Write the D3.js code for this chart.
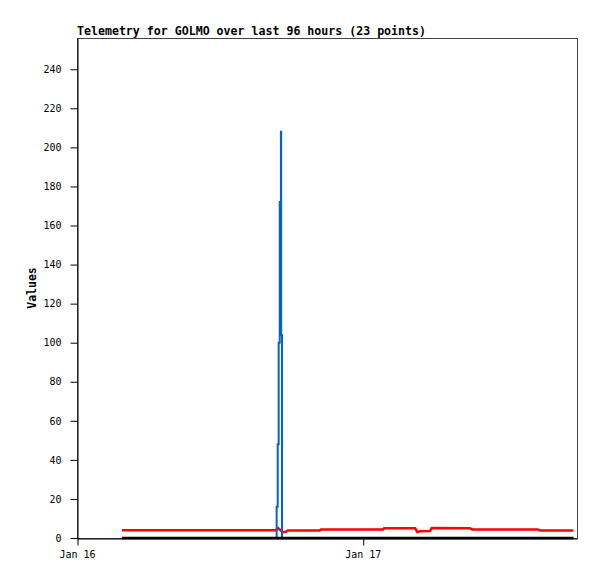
<!DOCTYPE html>
<html>
<head>
<meta charset="utf-8">
<script src="https://cdn.jsdelivr.net/npm/d3@7"></script>
<style>
  body { margin: 0; background: #fff; }
  svg { display: block; }
  text { font-family: "DejaVu Sans Mono", "Liberation Mono", monospace; fill: #000; }
</style>
</head>
<body>
<svg id="chart" width="597" height="579"></svg>
<script>
// hours after Jan 16 00:00 (UTC) and readings
const redHours  = [3.78, 16.7, 16.9, 17.1, 17.3, 17.55, 17.7, 20.4, 20.5, 25.7, 25.8, 28.4, 28.6, 28.8, 29.65, 29.8, 33.0, 33.2, 38.7, 38.9, 41.7];
const redValues = [4.0, 4.0, 5.0, 4.0, 3.0, 3.2, 3.9, 3.9, 4.4, 4.4, 5.0, 5.0, 3.0, 3.5, 3.6, 5.1, 5.0, 4.4, 4.4, 3.8, 3.8];

// blue readings are held until the next one (step)
const blueHours  = [3.78, 16.77, 16.86, 16.94, 17.03, 17.13, 17.15, 17.22, 41.7];
const blueValues = [0, 16, 48, 100, 172, 208, 104, 0, 0];

const blackHours  = [3.78, 41.7];
const blackValues = [0, 0];

const yTicks = [0, 20, 40, 60, 80, 100, 120, 140, 160, 180, 200, 220, 240];
const xTickLabels = ['Jan 16', 'Jan 17'];
const titleText = 'Telemetry for GOLMO over last 96 hours (23 points)';

const start = new Date(Date.UTC(2024, 0, 16));
const toDate = h => new Date(start.getTime() + h * 3600e3);

const margin = { left: 77, top: 38, right: 20, bottom: 41 };
const width = 597, height = 579;

const svg = d3.select('#chart');

const x = d3.scaleTime()
    .domain([start, toDate(42)])
    .range([margin.left, width - margin.right]);
const y = d3.scaleLinear()
    .domain([0, 256])
    .range([height - margin.bottom, margin.top]);

// plot frame
svg.append('rect')
    .attr('x', margin.left + 0.5)
    .attr('y', margin.top + 0.5)
    .attr('width', width - margin.right - margin.left)
    .attr('height', height - margin.bottom - margin.top)
    .attr('fill', 'none')
    .attr('stroke', '#444');

// y axis
const yAxis = d3.axisLeft(y).tickValues(yTicks).tickSize(7).tickSizeOuter(0).tickPadding(9);
svg.append('g')
    .attr('transform', `translate(${margin.left + 0.5},0)`)
    .call(yAxis)
    .call(g => g.select('.domain').attr('stroke', '#000'))
    .call(g => g.selectAll('text').attr('font-size', '10px').attr('font-family', '"DejaVu Sans Mono", monospace'));

// x axis
const xAxis = d3.axisBottom(x)
    .tickValues([toDate(0), toDate(24)])
    .tickFormat((d, i) => xTickLabels[i])
    .tickSize(7).tickSizeOuter(0).tickPadding(5);
svg.append('g')
    .attr('transform', `translate(0,${height - margin.bottom + 0.5})`)
    .call(xAxis)
    .call(g => g.select('.domain').attr('stroke', '#000'))
    .call(g => g.selectAll('.tick line').attr('transform', 'translate(0.5,0)'))
    .call(g => g.selectAll('text').attr('font-size', '10px').attr('font-family', '"DejaVu Sans Mono", monospace'));

// series
function drawSeries(hours, values, color, w, curve) {
    const line = d3.line()
        .curve(curve)
        .x(d => x(toDate(d[0])))
        .y(d => y(d[1]));
    svg.append('path')
        .datum(d3.zip(hours, values))
        .attr('d', line)
        .attr('fill', 'none')
        .attr('stroke', color)
        .attr('stroke-width', w);
}

drawSeries(redHours, redValues, '#ff0000', 2.5, d3.curveLinear);
drawSeries(blueHours, blueValues, '#0066cc', 2, d3.curveStepAfter);
drawSeries(blackHours, blackValues, '#000000', 2.5, d3.curveLinear);

// title
svg.append('text')
    .attr('x', margin.left)
    .attr('y', 35)
    .attr('font-size', '11.6px')
    .attr('font-weight', 'bold')
    .text(titleText);

// y label
svg.append('text')
    .attr('transform', `translate(36,${(margin.top + height - margin.bottom) / 2}) rotate(-90)`)
    .attr('text-anchor', 'middle')
    .attr('font-size', '11.5px')
    .attr('font-weight', 'bold')
    .text('Values');
</script>
</body>
</html>
